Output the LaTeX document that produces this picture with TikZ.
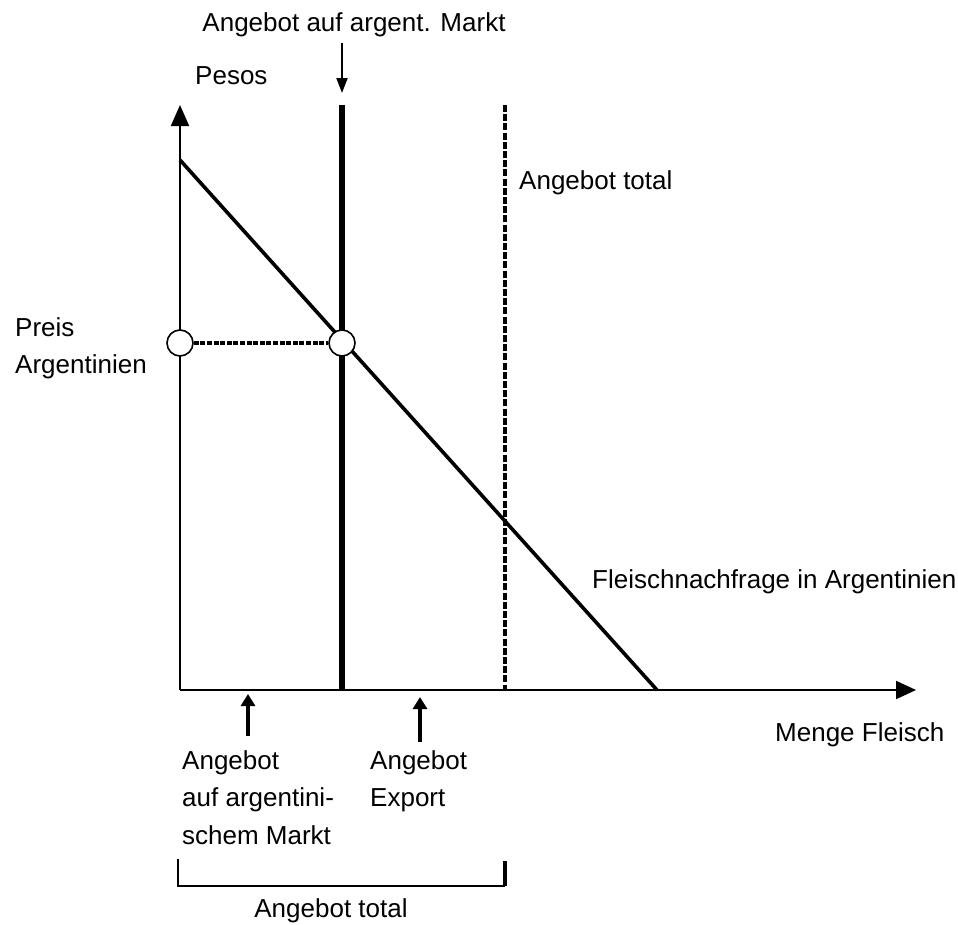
\documentclass[tikz,border=0pt]{standalone}
\usepackage{fontspec}
\setmainfont{Liberation Sans}
\usetikzlibrary{arrows.meta}
\begin{document}
\begin{tikzpicture}[x=1pt,y=-1pt,
  lbl/.style={inner sep=0pt,font=\fontsize{26}{30}\selectfont},
  axis/.style={line width=2pt},
  mark circ/.style={circle,draw,line width=1.6pt,fill=white,minimum size=26pt,inner sep=0pt},
  uparrow/.style={line width=4pt,-{Triangle[length=12pt,width=14pt]}}]
\useasboundingbox (0,0) rectangle (958,924);
% axes
\coordinate (O) at (180,690);
\coordinate (ytip) at (180,105);
\coordinate (xtip) at (916,690);
\draw[axis,-{Triangle[length=21pt,width=18pt]}] (O) -- (ytip);
\draw[axis,-{Triangle[length=20pt,width=18pt]}] (O) -- (xtip);
% demand line
\coordinate (d1) at (180,160);
\coordinate (d2) at (657,690);
\draw[line width=3.6pt] (d1) -- (d2);
% supply lines
\coordinate (s1a) at (342,105);
\coordinate (s1b) at (342,689);
\draw[line width=6pt] (s1a) -- (s1b);
\coordinate (s2a) at (505,105);
\coordinate (s2b) at (505,690);
\draw[line width=3.8pt,dash pattern=on 7pt off 2.2pt] (s2a) -- (s2b);
% price marks
\node[mark circ] (cL) at (180,343) {};
\node[mark circ] (cR) at (342,343) {};
\draw[line width=4pt,dash pattern=on 5pt off 1.6pt] (cL) -- (cR);
% labels
\node[lbl,anchor=base] (top) at (354,31) {Angebot auf argent. Markt};
\coordinate (ta1) at (342,43);
\coordinate (ta2) at (342,93);
\draw[line width=2pt,-{Triangle[length=15pt,width=11pt]}] (ta1) -- (ta2);
\node[lbl,anchor=base west] (pesos) at (195,84) {Pesos};
\node[lbl,anchor=base west] (tot1) at (519,189) {Angebot total};
\node[lbl,anchor=base west] (preis) at (15,336) {Preis};
\node[lbl,anchor=base west] (arg) at (15,373) {Argentinien};
\node[lbl,anchor=base west] (fn) at (592,588) {Fleischnachfrage in Argentinien};
\node[lbl,anchor=base west] (mf) at (775,741) {Menge Fleisch};
% lower arrows
\coordinate (a1t) at (248,736);
\coordinate (a1h) at (248,694);
\draw[uparrow] (a1t) -- (a1h);
\coordinate (a2t) at (420,742);
\coordinate (a2h) at (420,697);
\draw[uparrow] (a2t) -- (a2h);
\node[lbl,anchor=base west] (l1) at (182,769) {Angebot};
\node[lbl,anchor=base west] (l2) at (182,806) {auf argentini-};
\node[lbl,anchor=base west] (l3) at (182,844) {schem Markt};
\node[lbl,anchor=base west] (e1) at (370,769) {Angebot};
\node[lbl,anchor=base west] (e2) at (370,806) {Export};
% bracket
\coordinate (b1) at (178,859);
\coordinate (b2) at (178,886);
\coordinate (b3) at (505,886);
\coordinate (b4) at (505,861);
\draw[line width=2pt] (b1) -- (b2) -- (b3);
\draw[line width=4pt] (b3) -- (b4);
\node[lbl,anchor=base] (tot2) at (331,917) {Angebot total};
\end{tikzpicture}
\end{document}
